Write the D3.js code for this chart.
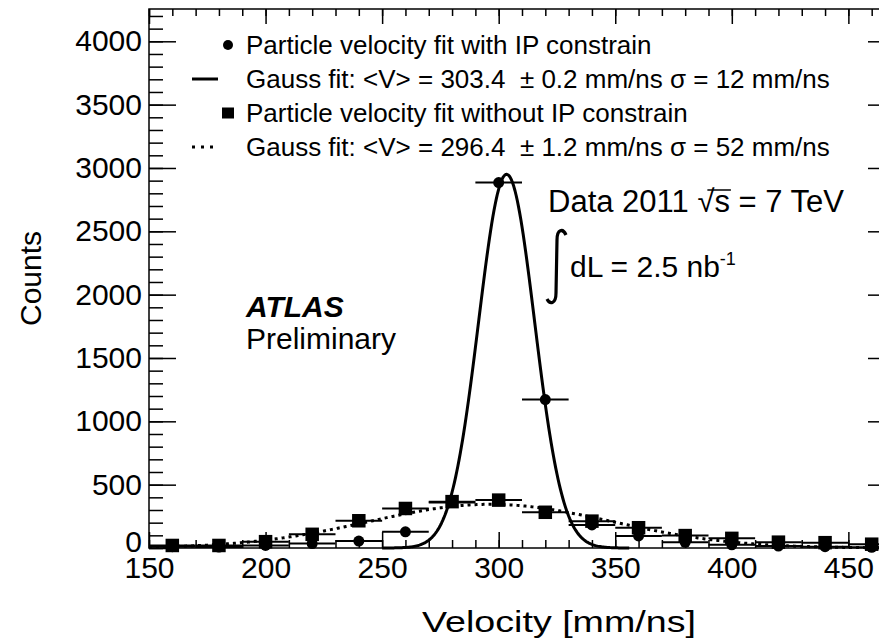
<!DOCTYPE html>
<html><head><meta charset="utf-8">
<script src="https://cdn.jsdelivr.net/npm/d3@7"></script>
<style>
body{margin:0;background:#fff}
svg{display:block}
text{font-family:"Liberation Sans",Arial,Helvetica,sans-serif;fill:#000}
</style>
</head><body>
<svg id="c" width="879" height="639"></svg>
<script>
// ---- data ----
const binCenters = [160,180,200,220,240,260,280,300,320,340,360,380,400,420,440,460];
const binHalfWidth = 10;
const countsWithIP = [10,8,20,35,55,128,360,2885,1172,182,95,45,25,15,10,5];
const countsWithoutIP = [20,20,50,108,215,312,366,378,282,212,160,98,76,46,42,30];
const fitMean = [303.4, 296.4];
const fitSigma = [12, 52];
const fitAmp = [2950, 345];
const fitRange = [[250, 356], [150, 470]];
const xTicks = [150,200,250,300,350,400,450];
const yTicks = [0,500,1000,1500,2000,2500,3000,3500,4000];
const legendLabels = [
  "Particle velocity fit with IP constrain",
  "Gauss fit: <V> = 303.4 \u00a0\u00b1 0.2 mm/ns \u03c3 = 12 mm/ns",
  "Particle velocity fit without IP constrain",
  "Gauss fit: <V> = 296.4 \u00a0\u00b1 1.2 mm/ns \u03c3 = 52 mm/ns"
];

// ---- scales ----
const x = d3.scaleLinear().domain([150, 470]).range([149, 895]);
const y = d3.scaleLinear().domain([0, 4255]).range([548, 9]);
const svg = d3.select('#c');
const X0 = x.range()[0], X1 = x.range()[1], Y0 = y.range()[0], Y1 = y.range()[1];

// frame
svg.append('rect').attr('x', X0).attr('y', Y1).attr('width', X1 - X0).attr('height', Y0 - Y1)
  .attr('fill', 'none').attr('stroke', '#000').attr('stroke-width', 1.5);

function styleAxis(g, fs) {
  g.select('.domain').remove();
  g.selectAll('.tick line').attr('stroke', '#000').attr('stroke-width', 1.5);
  g.selectAll('.tick text').attr('font-size', fs).attr('font-family', '"Liberation Sans",Arial,sans-serif').attr('fill', '#000');
}
const xMinor = d3.range(150, 471, 10);
const yMinor = d3.range(0, 4255, 100);

// bottom
svg.append('g').attr('transform', `translate(0,${Y0})`)
  .call(d3.axisBottom(x).tickValues(xMinor).tickSize(-8).tickFormat('')).call(g => styleAxis(g, 0));
svg.append('g').attr('transform', `translate(0,${Y0})`)
  .call(d3.axisBottom(x).tickValues(xTicks).tickSize(-16).tickPadding(9).tickFormat(d3.format('d')))
  .call(g => styleAxis(g, 30));
// top
svg.append('g').attr('transform', `translate(0,${Y1})`)
  .call(d3.axisTop(x).tickValues(xMinor).tickSize(-7).tickFormat('')).call(g => styleAxis(g, 0));
svg.append('g').attr('transform', `translate(0,${Y1})`)
  .call(d3.axisTop(x).tickValues(xTicks).tickSize(-15).tickFormat('')).call(g => styleAxis(g, 0));
// left
svg.append('g').attr('transform', `translate(${X0},0)`)
  .call(d3.axisLeft(y).tickValues(yMinor).tickSize(-14).tickFormat('')).call(g => styleAxis(g, 0));
svg.append('g').attr('transform', `translate(${X0},0)`)
  .call(d3.axisLeft(y).tickValues(yTicks).tickSize(-27).tickPadding(7).tickFormat(d3.format('d')))
  .call(g => styleAxis(g, 30))
  .call(g => g.selectAll('.tick text').filter(d => d === 0).attr('dy', '0.12em'));
// right
svg.append('g').attr('transform', `translate(${X1},0)`)
  .call(d3.axisRight(y).tickValues(yMinor).tickSize(-14).tickFormat('')).call(g => styleAxis(g, 0));
svg.append('g').attr('transform', `translate(${X1},0)`)
  .call(d3.axisRight(y).tickValues(yTicks).tickSize(-27).tickFormat('')).call(g => styleAxis(g, 0));

// axis titles
svg.append('text').attr('x', 422).attr('y', 632)
  .attr('font-size', 29.5).attr('textLength', 274).attr('lengthAdjust', 'spacingAndGlyphs')
  .text('Velocity [mm/ns]');
svg.append('text').attr('transform', `translate(41,${(Y0 + Y1) / 2}) rotate(-90)`).attr('text-anchor', 'middle')
  .attr('font-size', 30).text('Counts');

// ---- data marks ----
const withIP = binCenters.map((c, i) => ({c, v: countsWithIP[i]}));
const withoutIP = binCenters.map((c, i) => ({c, v: countsWithoutIP[i]}));

const gErr = svg.append('g').attr('stroke', '#000').attr('stroke-width', 2);
[withoutIP, withIP].forEach(s => {
  gErr.selectAll(null).data(s).enter().append('line')
    .attr('x1', d => x(d.c - binHalfWidth)).attr('x2', d => x(d.c + binHalfWidth))
    .attr('y1', d => y(d.v)).attr('y2', d => y(d.v));
});
const sq = 13.5;
svg.append('g').selectAll('rect').data(withoutIP).enter().append('rect')
  .attr('x', d => x(d.c) - sq / 2).attr('y', d => y(d.v) - sq / 2)
  .attr('width', sq).attr('height', sq).attr('fill', '#000');
svg.append('g').selectAll('circle').data(withIP).enter().append('circle')
  .attr('cx', d => x(d.c)).attr('cy', d => y(d.v)).attr('r', 5.5).attr('fill', '#000');

// ---- fit curves ----
const gauss = (k, v) => fitAmp[k] * Math.exp(-0.5 * Math.pow((v - fitMean[k]) / fitSigma[k], 2));
const line = d3.line().x(d => x(d[0])).y(d => y(d[1]));
[0, 1].forEach(k => {
  const pts = d3.range(fitRange[k][0], fitRange[k][1] + 0.001, 0.5).map(v => [v, gauss(k, v)]);
  svg.append('path').attr('d', line(pts)).attr('fill', 'none').attr('stroke', '#000')
    .attr('stroke-width', 3).attr('stroke-dasharray', k === 1 ? '3,4' : null)
    .attr('stroke-linejoin', 'round');
});

// ---- legend ----
const legY = [45, 79, 113, 147];
const lg = svg.append('g');
lg.append('circle').attr('cx', 228).attr('cy', legY[0]).attr('r', 5).attr('fill', '#000');
lg.append('line').attr('x1', 192).attr('x2', 218).attr('y1', legY[1]).attr('y2', legY[1])
  .attr('stroke', '#000').attr('stroke-width', 3);
lg.append('rect').attr('x', 228 - 6).attr('y', legY[2] - 5.5).attr('width', 12).attr('height', 11).attr('fill', '#000');
lg.append('line').attr('x1', 192).attr('x2', 215).attr('y1', legY[3]).attr('y2', legY[3])
  .attr('stroke', '#000').attr('stroke-width', 3).attr('stroke-dasharray', '3,6');
legendLabels.forEach((t, i) => {
  lg.append('text').attr('x', 246).attr('y', legY[i] + 8.5).attr('font-size', 26).text(t);
});

// ---- annotations ----
svg.append('text').attr('x', 246).attr('y', 317).attr('font-size', 30)
  .attr('font-weight', 'bold').attr('font-style', 'italic').text('ATLAS');
svg.append('text').attr('x', 246).attr('y', 349).attr('font-size', 30).text('Preliminary');

const t1 = svg.append('text').attr('x', 548).attr('y', 212).attr('font-size', 31);
t1.append('tspan').text('Data 2011 ');
t1.append('tspan').text('\u221a');
t1.append('tspan').text('s');
t1.append('tspan').text(' = 7 TeV');
// overline of the square root
const tNode = t1.node();
const sEnd = tNode.getEndPositionOfChar(11);
const rStart = tNode.getStartPositionOfChar(10);
svg.append('line').attr('x1', rStart.x + 10).attr('x2', sEnd.x + 1).attr('y1', 190).attr('y2', 190)
  .attr('stroke', '#000').attr('stroke-width', 1.5);

svg.append('path').attr('d', 'M566,235 C563,228 557,229 557,240 L556,293 C556,304 550,305 547,299')
  .attr('fill', 'none').attr('stroke', '#000').attr('stroke-width', 3.2);
const t2 = svg.append('text').attr('x', 570).attr('y', 277).attr('font-size', 30);
t2.append('tspan').text('dL = 2.5 nb');
t2.append('tspan').attr('font-size', 18).attr('dy', -12).text('-1');
</script>
</body></html>
